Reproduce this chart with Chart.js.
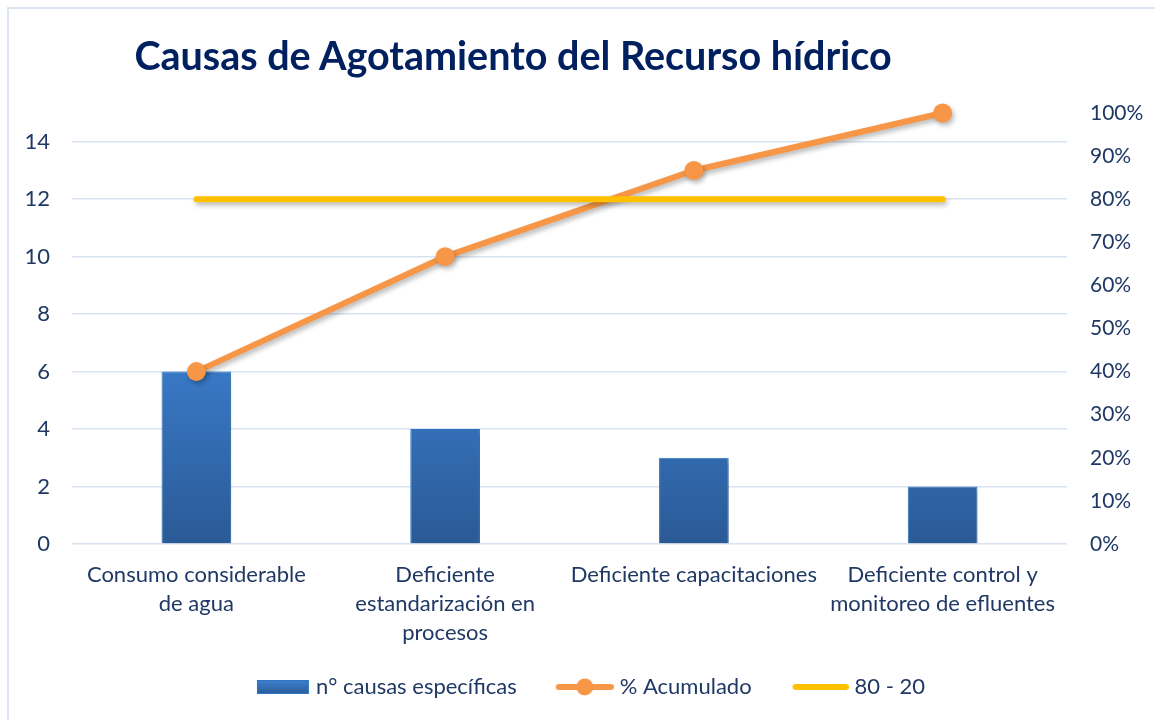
<!DOCTYPE html>
<html>
<head>
<meta charset="utf-8">
<script src="https://cdn.jsdelivr.net/npm/chart.js@4"></script>
<style>
  html, body { margin: 0; padding: 0; background: #fff; }
  #wrap { position: relative; width: 1155px; height: 720px; overflow: hidden; }
  #frame { position: absolute; left: 7px; top: 7px; width: 1200px; height: 800px; border: 2px solid #DCE6F2; box-sizing: border-box; }
  #title { position: absolute; left: 0; top: 31px; width: 1026px; text-align: center;
           font-family: Lato, sans-serif; font-weight: bold; font-size: 39.5px; color: #002060; }
  canvas { position: absolute; left: 0; top: 0; }
</style>
</head>
<body>
<div id="wrap">
  <div id="frame"></div>
  <canvas id="paretoChart" width="1155" height="720"></canvas>
  <div id="title">Causas de Agotamiento del Recurso hídrico</div>
</div>
<script>
// Data
const categories = [
    ['Consumo considerable', 'de agua'],
    ['Deficiente', 'estandarización en', 'procesos'],
    'Deficiente capacitaciones',
    ['Deficiente control y', 'monitoreo de efluentes']
];
const causeCounts = [6, 4, 3, 2];
const cumulativePct = [0.40, 0.6667, 0.8667, 1.00];
const thresholdPct = [0.80, 0.80, 0.80, 0.80];
const seriesNames = ['n° causas específicas', '% Acumulado', '80 - 20'];

const textColor = '#1F3864';
const gridColor = '#D9E2F1';
const orange = '#F79646';
const yellow = '#FFC000';
const fontFamily = 'Lato, sans-serif';

// Legend icons drawn on small canvases (right aligned, blank on the left)
const ICON_W = 78;
const LEGEND_BOX = 68;
function makeIcon(kind) {
    const c = document.createElement('canvas');
    c.width = ICON_W; c.height = 22;
    const g = c.getContext('2d');
    if (kind === 'bar') {
        const grad = g.createLinearGradient(0, 4, 0, 18);
        grad.addColorStop(0, '#3F80CF');
        grad.addColorStop(1, '#2B5C98');
        g.fillStyle = grad;
        g.fillRect(ICON_W - 53, 4, 52, 14);
        g.strokeStyle = '#2A78C4';
        g.lineWidth = 1;
        g.strokeRect(ICON_W - 52.5, 4.5, 51, 13);
    } else {
        const w = kind === 'dot' ? 58 : 56;
        g.strokeStyle = kind === 'dot' ? orange : yellow;
        g.lineWidth = 6;
        g.lineCap = 'round';
        g.beginPath();
        g.moveTo(ICON_W - w + 3, 11); g.lineTo(ICON_W - 3, 11);
        g.stroke();
        if (kind === 'dot') {
            g.fillStyle = orange;
            g.beginPath();
            g.arc(ICON_W - w / 2, 11, 8.5, 0, Math.PI * 2);
            g.fill();
        }
    }
    return c;
}
const icons = [makeIcon('bar'), makeIcon('dot'), makeIcon('line')];

// Soft shadow under the marks, like the original
const shadowPlugin = {
    id: 'shadow',
    beforeDatasetDraw(chart) {
        const ctx = chart.ctx;
        ctx.save();
        ctx.shadowColor = 'rgba(0,0,0,0.28)';
        ctx.shadowBlur = 5;
        ctx.shadowOffsetX = 2;
        ctx.shadowOffsetY = 3;
    },
    afterDatasetDraw(chart) {
        chart.ctx.restore();
    }
};

function barGradient(context) {
    const area = context.chart.chartArea;
    if (!area) return '#3A76C0';
    const g = context.chart.ctx.createLinearGradient(0, area.top, 0, area.bottom);
    g.addColorStop(0, '#4588D8');
    g.addColorStop(0.55, '#3B7CCB');
    g.addColorStop(1, '#2A5A96');
    return g;
}

const ctx = document.getElementById('paretoChart').getContext('2d');
new Chart(ctx, {
    type: 'bar',
    plugins: [shadowPlugin],
    data: {
        labels: categories,
        datasets: [
            {
                type: 'bar',
                label: seriesNames[0],
                data: causeCounts,
                yAxisID: 'y',
                backgroundColor: barGradient,
                borderColor: '#2A78C4',
                borderWidth: 1,
                barPercentage: 0.28,
                categoryPercentage: 1,
                order: 3
            },
            {
                type: 'line',
                label: seriesNames[1],
                data: cumulativePct,
                yAxisID: 'y1',
                borderColor: orange,
                backgroundColor: orange,
                borderWidth: 6,
                pointRadius: 9.5,
                pointBorderWidth: 0,
                pointBackgroundColor: orange,
                tension: 0,
                clip: false,
                order: 2
            },
            {
                type: 'line',
                label: seriesNames[2],
                data: thresholdPct,
                yAxisID: 'y1',
                borderColor: yellow,
                backgroundColor: yellow,
                borderWidth: 6,
                borderCapStyle: 'round',
                pointRadius: 0,
                tension: 0,
                clip: false,
                order: 1
            }
        ]
    },
    options: {
        responsive: false,
        animation: false,
        layout: { padding: { top: 113, left: 7, right: 0, bottom: 12 } },
        scales: {
            x: {
                grid: { display: false },
                border: { display: false },
                afterFit: function(scale) { scale.height = 108; },
                ticks: {
                    color: textColor,
                    font: { family: fontFamily, size: 22, lineHeight: 1.3 },
                    padding: 9,
                    maxRotation: 0,
                    autoSkip: false
                }
            },
            y: {
                position: 'left',
                min: 0,
                max: 15,
                afterFit: function(scale) { scale.width = 65; },
                grid: { color: gridColor, lineWidth: 1.5, drawTicks: false },
                border: { display: false },
                ticks: {
                    stepSize: 2,
                    includeBounds: false,
                    color: textColor,
                    font: { family: fontFamily, size: 22 },
                    padding: 22
                }
            },
            y1: {
                position: 'right',
                min: 0,
                max: 1,
                afterFit: function(scale) { scale.width = 88; },
                grid: { display: false, drawTicks: false },
                border: { display: false },
                ticks: {
                    stepSize: 0.1,
                    color: textColor,
                    font: { family: fontFamily, size: 21 },
                    padding: 23,
                    callback: function(value) {
                        return Math.round(value * 100) + '%';
                    }
                }
            }
        },
        plugins: {
            title: { display: false },
            tooltip: { enabled: false },
            legend: {
                position: 'bottom',
                labels: {
                    color: textColor,
                    font: { family: fontFamily, size: 22 },
                    usePointStyle: true,
                    pointStyleWidth: LEGEND_BOX,
                    boxHeight: 22,
                    padding: 24,
                    sort: (a, b) => a.datasetIndex - b.datasetIndex,
                    generateLabels: function(chart) {
                        const items = Chart.defaults.plugins.legend.labels.generateLabels(chart);
                        items.forEach(item => {
                            item.pointStyle = icons[item.datasetIndex];
                            item.lineWidth = 0;
                        });
                        return items;
                    }
                }
            }
        }
    }
});
</script>
</body>
</html>
